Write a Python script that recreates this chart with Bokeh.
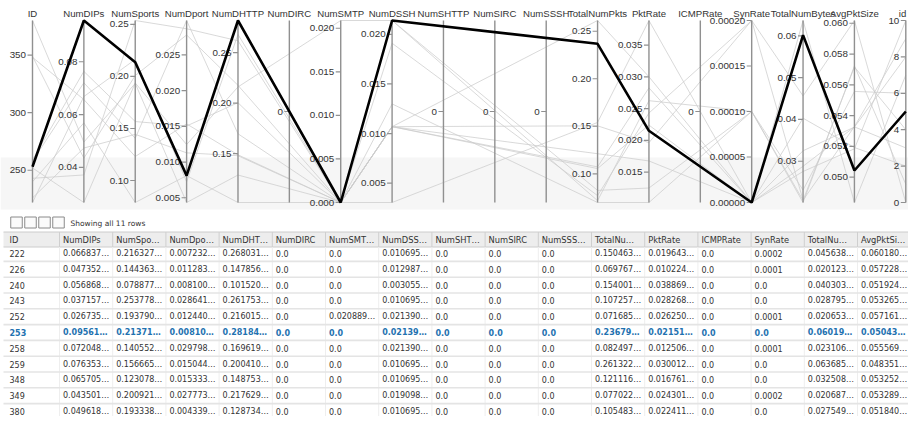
import math
import numpy as np
from bokeh.plotting import figure
from bokeh.models import Range1d
from bokeh.core.properties import value
from bokeh.embed import file_html
from bokeh.resources import INLINE

# ---------------- data ----------------
columns = ["ID", "NumDIPs", "NumSports", "NumDport", "NumDHTTP", "NumDIRC", "NumSMTP",
           "NumDSSH", "NumSHTTP", "NumSIRC", "NumSSSH", "TotalNumPkts", "PktRate",
           "ICMPRate", "SynRate", "TotalNumBytes", "AvgPktSize", "id"]

ids = [222, 226, 240, 243, 252, 253, 258, 259, 348, 349, 380]
num_dips = [0.066837, 0.047352, 0.056868, 0.037157, 0.026735, 0.09561, 0.072048, 0.076353, 0.065705, 0.043501, 0.049618]
num_sports = [0.216327, 0.144363, 0.078877, 0.253778, 0.193790, 0.21371, 0.140552, 0.156665, 0.123078, 0.200921, 0.193338]
num_dport = [0.007232, 0.011283, 0.008100, 0.028641, 0.012440, 0.00810, 0.029798, 0.015044, 0.015333, 0.027773, 0.004339]
num_dhttp = [0.268031, 0.147856, 0.101520, 0.261753, 0.216015, 0.28184, 0.169619, 0.200410, 0.148753, 0.217629, 0.128734]
num_dirc = [0.0, 0.0, 0.0, 0.0, 0.0, 0.0, 0.0, 0.0, 0.0, 0.0, 0.0]
num_smtp = [0.0, 0.0, 0.0, 0.0, 0.020889, 0.0, 0.0, 0.0, 0.0, 0.0, 0.0]
num_dssh = [0.010695, 0.012987, 0.003055, 0.010695, 0.021390, 0.02139, 0.021390, 0.010695, 0.010695, 0.019098, 0.010695]
num_shttp = [0.0, 0.0, 0.0, 0.0, 0.0, 0.0, 0.0, 0.0, 0.0, 0.0, 0.0]
num_sirc = [0.0, 0.0, 0.0, 0.0, 0.0, 0.0, 0.0, 0.0, 0.0, 0.0, 0.0]
num_sssh = [0.0, 0.0, 0.0, 0.0, 0.0, 0.0, 0.0, 0.0, 0.0, 0.0, 0.0]
total_num_pkts = [0.150463, 0.069767, 0.154001, 0.107257, 0.071685, 0.23679, 0.082497, 0.261322, 0.121116, 0.077022, 0.105483]
pkt_rate = [0.019643, 0.010224, 0.038869, 0.028268, 0.026250, 0.02151, 0.012506, 0.030012, 0.016761, 0.024301, 0.022411]
icmp_rate = [0.0, 0.0, 0.0, 0.0, 0.0, 0.0, 0.0, 0.0, 0.0, 0.0, 0.0]
syn_rate = [0.0002, 0.0001, 0.0, 0.0, 0.0001, 0.0, 0.0001, 0.0, 0.0, 0.0002, 0.0]
total_num_bytes = [0.045638, 0.020123, 0.040303, 0.028795, 0.020653, 0.06019, 0.023106, 0.063685, 0.032508, 0.020687, 0.027549]
avg_pkt_size = [0.060180, 0.057228, 0.051924, 0.053265, 0.057161, 0.05043, 0.055569, 0.048351, 0.053252, 0.053289, 0.051840]
row_index = [0, 1, 2, 3, 4, 5, 6, 7, 8, 9, 10]

selected_row = 5  # ID 253 is highlighted

table_headers = ["ID", "NumDIPs", "NumSpo\u2026", "NumDpo\u2026", "NumDHT\u2026", "NumDIRC", "NumSMT\u2026",
                 "NumDSS\u2026", "NumSHT\u2026", "NumSIRC", "NumSSS\u2026", "TotalNu\u2026", "PktRate",
                 "ICMPRate", "SynRate", "TotalNu\u2026", "AvgPktSi\u2026"]

data = dict(zip(columns, [ids, num_dips, num_sports, num_dport, num_dhttp, num_dirc, num_smtp,
                          num_dssh, num_shttp, num_sirc, num_sssh, total_num_pkts, pkt_rate,
                          icmp_rate, syn_rate, total_num_bytes, avg_pkt_size, row_index]))

# ---------------- figure ----------------
W, H = 908, 416
p = figure(width=W, height=H, x_range=Range1d(0, W), y_range=Range1d(H, 0),
           output_backend="svg", toolbar_location=None, min_border=0,
           x_axis_type=None, y_axis_type=None)
p.outline_line_color = None
p.background_fill_color = "white"
p.border_fill_color = "white"
p.grid.visible = False

AX_FONT = value("Liberation Sans")
TB_FONT = value("DejaVu Sans")

# ---------------- parallel coordinates ----------------
TOP, BOT = 20.0, 202.0
MID = (TOP + BOT) / 2
axis_x = np.linspace(32.0, 905.3, len(columns))

# faint band behind lower part
p.quad(left=[0], right=[W], top=[157], bottom=[209], fill_color="#f6f6f6", line_color=None)


def nice_step(lo, hi, count=4.5):
    step = (hi - lo) / count
    power = math.floor(math.log10(step))
    err = step / 10 ** power
    f = 10 if err >= math.sqrt(50) else 5 if err >= math.sqrt(10) else 2 if err >= math.sqrt(2) else 1
    return f * 10 ** power


ranges = {c: (min(data[c]), max(data[c])) for c in columns}


def ymap(c, v):
    lo, hi = ranges[c]
    if hi == lo:
        return MID
    return BOT - (v - lo) / (hi - lo) * (BOT - TOP)


active = [j for j, c in enumerate(columns) if ranges[c][1] > ranges[c][0]]

xs_all, ys_all = [], []
for r in range(len(ids)):
    xs_all.append([axis_x[j] for j in active])
    ys_all.append([ymap(columns[j], data[columns[j]][r]) for j in active])

grey_x = [xs_all[r] for r in range(len(ids)) if r != selected_row]
grey_y = [ys_all[r] for r in range(len(ids)) if r != selected_row]
p.multi_line(xs=grey_x, ys=grey_y, line_color="#cccccc", line_alpha=0.75, line_width=1)

# axes
p.segment(x0=axis_x, y0=[TOP] * len(columns), x1=axis_x, y1=[BOT] * len(columns),
          line_color="#909090", line_width=1.4)

tx0, ty0, tlab = [], [], []
for j, c in enumerate(columns):
    lo, hi = ranges[c]
    if hi == lo:
        ticks = [lo]
        labels = ["%g" % lo]
    else:
        st = nice_step(lo, hi)
        k0 = math.ceil(lo / st - 1e-9)
        k1 = math.floor(hi / st + 1e-9)
        ticks = [k * st for k in range(k0, k1 + 1)]
        dec = max(0, -math.floor(math.log10(st) + 1e-9))
        labels = [f"{t:.{dec}f}" for t in ticks]
    for t, lab in zip(ticks, labels):
        tx0.append(axis_x[j])
        ty0.append(ymap(c, t))
        tlab.append(lab)

p.segment(x0=[x - 5 for x in tx0], y0=ty0, x1=tx0, y1=ty0, line_color="#909090", line_width=1.2)
p.text(x=[x - 6.5 for x in tx0], y=ty0, text=tlab, text_align="right", text_baseline="middle",
       text_font=AX_FONT, text_font_size="9.8px", text_color="#333333")

title_x = [min(x, W - 6) for x in axis_x]
p.text(x=title_x, y=[12.5] * len(columns), text=columns, text_align="center", text_baseline="middle",
       text_font=AX_FONT, text_font_size="9.6px", text_color="#333333")

# highlighted row
p.line(x=xs_all[selected_row], y=ys_all[selected_row], line_color="black", line_width=2.6)

# ---------------- table ----------------
p.rect(x=[16, 30, 44, 58], y=[222] * 4, width=11.5, height=11, fill_color="#fbfbfb",
       line_color="#8a8a8a", line_width=1)
p.text(x=[70], y=[222.5], text=[f"Showing all {len(ids)} rows"], text_align="left",
       text_baseline="middle", text_font=TB_FONT, text_font_size="7.5px", text_color="#333333")

vis_cols = columns[:17]
PITCH_X = 53.2
sep_x = [59 + PITCH_X * k for k in range(len(vis_cols) - 1)]
text_x = [9] + [s + 3.5 for s in sep_x]

HDR_T, HDR_B = 231.5, 246.5
ROW0, PITCH = 253.0, 15.8
n = len(ids)

p.quad(left=[3], right=[W], top=[HDR_T], bottom=[HDR_B], fill_color="#ededed", line_color=None)
p.segment(x0=[3, 3], y0=[HDR_T, HDR_B], x1=[W, W], y1=[HDR_T, HDR_B], line_color="#cccccc", line_width=1)
p.segment(x0=sep_x, y0=[HDR_T] * len(sep_x), x1=sep_x, y1=[HDR_B] * len(sep_x),
          line_color="#cfcfcf", line_width=1)
p.segment(x0=sep_x, y0=[HDR_B] * len(sep_x), x1=sep_x, y1=[H] * len(sep_x),
          line_color="#eeeeee", line_width=1)
row_lines = [ROW0 + PITCH * k + PITCH / 2 for k in range(n)]
p.segment(x0=[3] * n, y0=row_lines, x1=[W] * n, y1=row_lines, line_color="#e4e4e4", line_width=1.6)

p.text(x=text_x, y=[239] * len(vis_cols), text=table_headers, text_align="left", text_baseline="middle",
       text_font=TB_FONT, text_font_size="8.3px", text_color="#333333")


def fmt(c, v, bold):
    if c == "ID":
        return str(v)
    if v == 0:
        return "0.0"
    if c == "SynRate":
        return repr(float(v))
    return (f"{v:.5f}" if bold else f"{v:.6f}") + "\u2026"


nx, ny, nt, bx, by, bt = [], [], [], [], [], []
for r in range(n):
    yc = ROW0 + PITCH * r
    for j, c in enumerate(vis_cols):
        bold = (r == selected_row)
        s = fmt(c, data[c][r], bold)
        if bold:
            bx.append(text_x[j]); by.append(yc); bt.append(s)
        else:
            nx.append(text_x[j]); ny.append(yc); nt.append(s)

p.text(x=nx, y=ny, text=nt, text_align="left", text_baseline="middle",
       text_font=TB_FONT, text_font_size="8px", text_color="#333333")
p.text(x=bx, y=by, text=bt, text_align="left", text_baseline="middle",
       text_font=TB_FONT, text_font_size="8px", text_font_style="bold", text_color="#1f72b0")

open("out.html", "w").write(file_html(p, INLINE))
